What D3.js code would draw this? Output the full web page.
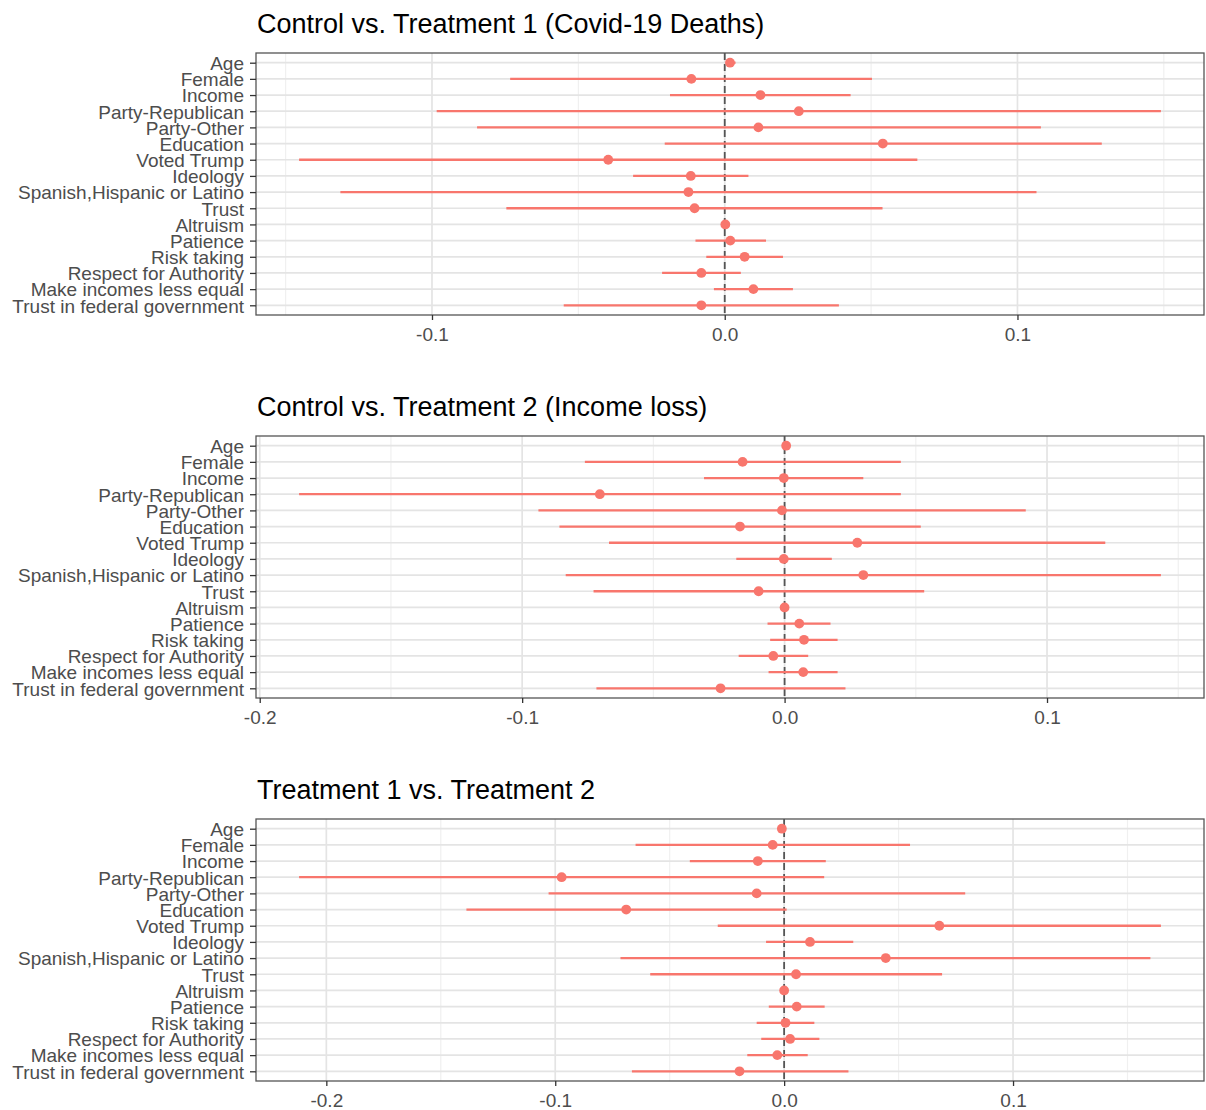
<!DOCTYPE html>
<html>
<head>
<meta charset="utf-8">
<script src="https://cdn.jsdelivr.net/npm/d3@7"></script>
<style>
  html, body { margin: 0; padding: 0; background: #fff; }
  svg { display: block; }
</style>
</head>
<body>
<svg id="chart" width="1206" height="1110"></svg>
<script>
// ---------------- DATA ----------------
const categories = [
  "Age", "Female", "Income", "Party-Republican", "Party-Other", "Education",
  "Voted Trump", "Ideology", "Spanish,Hispanic or Latino", "Trust", "Altruism",
  "Patience", "Risk taking", "Respect for Authority", "Make incomes less equal",
  "Trust in federal government"
];

const titles = [
  "Control vs. Treatment 1 (Covid-19 Deaths)",
  "Control vs. Treatment 2 (Income loss)",
  "Treatment 1 vs. Treatment 2"
];

// Panel 1: Control vs. Treatment 1
const est1 = [0.0018, -0.0114, 0.0122, 0.0253, 0.0115, 0.0540, -0.0398, -0.0116, -0.0124, -0.0103, 0.0002, 0.0019, 0.0068, -0.0080, 0.0098, -0.0080];
const lo1  = [0.0003, -0.0733, -0.0187, -0.0984, -0.0846, -0.0205, -0.1454, -0.0313, -0.1313, -0.0746, 0.0000, -0.0100, -0.0063, -0.0214, -0.0037, -0.0550];
const hi1  = [0.0037, 0.0503, 0.0430, 0.1490, 0.1080, 0.1288, 0.0658, 0.0081, 0.1065, 0.0539, 0.0004, 0.0141, 0.0199, 0.0055, 0.0233, 0.0390];

// Panel 2: Control vs. Treatment 2
const est2 = [0.0006, -0.0160, -0.0003, -0.0704, -0.0010, -0.0170, 0.0277, -0.0003, 0.0300, -0.0099, 0.0000, 0.0056, 0.0074, -0.0043, 0.0071, -0.0244];
const lo2  = [0.0001, -0.0761, -0.0307, -0.1850, -0.0938, -0.0858, -0.0669, -0.0184, -0.0834, -0.0728, -0.0002, -0.0065, -0.0055, -0.0175, -0.0061, -0.0717];
const hi2  = [0.0011, 0.0443, 0.0300, 0.0443, 0.0919, 0.0519, 0.1222, 0.0180, 0.1434, 0.0532, 0.0002, 0.0175, 0.0202, 0.0090, 0.0202, 0.0232];

// Panel 3: Treatment 1 vs. Treatment 2
const est3 = [-0.0010, -0.0050, -0.0115, -0.0972, -0.0120, -0.0690, 0.0678, 0.0113, 0.0444, 0.0052, 0.0000, 0.0055, 0.0006, 0.0026, -0.0030, -0.0195];
const lo3  = [-0.0015, -0.0649, -0.0412, -0.2119, -0.1029, -0.1388, -0.0290, -0.0079, -0.0715, -0.0585, -0.0002, -0.0067, -0.0120, -0.0100, -0.0161, -0.0665];
const hi3  = [-0.0005, 0.0550, 0.0182, 0.0175, 0.0791, 0.0011, 0.1646, 0.0302, 0.1600, 0.0690, 0.0002, 0.0177, 0.0132, 0.0154, 0.0103, 0.0281];

const ticks1 = [-0.1, 0.0, 0.1];
const ticks2 = [-0.2, -0.1, 0.0, 0.1];
const ticks3 = [-0.2, -0.1, 0.0, 0.1];

// ---------------- DRAW ----------------
const panels = [
  { title: titles[0], est: est1, lo: lo1, hi: hi1, ticks: ticks1 },
  { title: titles[1], est: est2, lo: lo2, hi: hi2, ticks: ticks2 },
  { title: titles[2], est: est3, lo: lo3, hi: hi3, ticks: ticks3 }
];

const svg = d3.select("#chart");
const FONT = "'Liberation Sans', Arial, Helvetica, sans-serif";
const panelLeft = 256, panelRight = 1204;
const panelTops = [53, 436, 819];
const panelH = 262;
const red = "#F8766D";

panels.forEach((p, i) => {
  const top = panelTops[i];
  const bottom = top + panelH;
  const g = svg.append("g");

  const mn = d3.min(p.lo), mx = d3.max(p.hi);
  const pad = (mx - mn) * 0.05;
  const x = d3.scaleLinear().domain([mn - pad, mx + pad]).range([panelLeft, panelRight]);
  const y = d3.scalePoint().domain(categories).range([top, bottom]).padding(0.6);

  // minor gridlines
  const [d0, d1] = x.domain();
  const minor = [];
  for (let k = -10; k <= 10; k++) {
    const v = k * 0.1 + 0.05;
    if (v > d0 && v < d1) minor.push(v);
  }
  g.append("g").selectAll("line").data(minor).join("line")
    .attr("x1", d => x(d)).attr("x2", d => x(d))
    .attr("y1", top).attr("y2", bottom)
    .attr("stroke", "#F0F0F0").attr("stroke-width", 1.2);

  // major gridlines
  g.append("g").selectAll("line").data(p.ticks).join("line")
    .attr("x1", d => x(d)).attr("x2", d => x(d))
    .attr("y1", top).attr("y2", bottom)
    .attr("stroke", "#E4E4E4").attr("stroke-width", 1.7);
  g.append("g").selectAll("line").data(categories).join("line")
    .attr("x1", panelLeft).attr("x2", panelRight)
    .attr("y1", d => y(d)).attr("y2", d => y(d))
    .attr("stroke", "#E4E4E4").attr("stroke-width", 1.7);

  // dashed zero line
  g.append("line")
    .attr("x1", x(0)).attr("x2", x(0)).attr("y1", top).attr("y2", bottom)
    .attr("stroke", "#555").attr("stroke-width", 1.8)
    .attr("stroke-dasharray", "7,4");

  // error bars
  g.append("g").selectAll("line").data(categories).join("line")
    .attr("x1", (d, j) => x(p.lo[j])).attr("x2", (d, j) => x(p.hi[j]))
    .attr("y1", d => y(d)).attr("y2", d => y(d))
    .attr("stroke", red).attr("stroke-width", 2.3);

  // points
  g.append("g").selectAll("circle").data(categories).join("circle")
    .attr("cx", (d, j) => x(p.est[j])).attr("cy", d => y(d))
    .attr("r", 4.9).attr("fill", red);

  // panel border
  g.append("rect")
    .attr("x", panelLeft).attr("y", top)
    .attr("width", panelRight - panelLeft).attr("height", panelH)
    .attr("fill", "none").attr("stroke", "#555").attr("stroke-width", 1.3);

  // x axis
  const xAxis = g.append("g")
    .attr("transform", `translate(0,${bottom})`)
    .call(d3.axisBottom(x).tickValues(p.ticks).tickSize(5).tickPadding(8)
      .tickFormat(d => d3.format(".1f")(d).replace("−", "-")));
  xAxis.select(".domain").remove();
  xAxis.selectAll(".tick line").attr("stroke", "#333").attr("stroke-width", 1.3);
  xAxis.selectAll("text").attr("fill", "#4D4D4D")
    .style("font-family", FONT).style("font-size", "19px");

  // y axis
  const yAxis = g.append("g")
    .attr("transform", `translate(${panelLeft},0)`)
    .call(d3.axisLeft(y).tickSize(6).tickPadding(6));
  yAxis.select(".domain").remove();
  yAxis.selectAll(".tick line").attr("stroke", "#333").attr("stroke-width", 1.3);
  yAxis.selectAll("text").attr("fill", "#4D4D4D")
    .attr("dy", "0.36em")
    .style("font-family", FONT).style("font-size", "19px");

  // title
  g.append("text")
    .attr("x", panelLeft + 1).attr("y", top - 20)
    .attr("fill", "#000")
    .style("font-family", FONT).style("font-size", "27px")
    .text(p.title);
});
</script>
</body>
</html>
